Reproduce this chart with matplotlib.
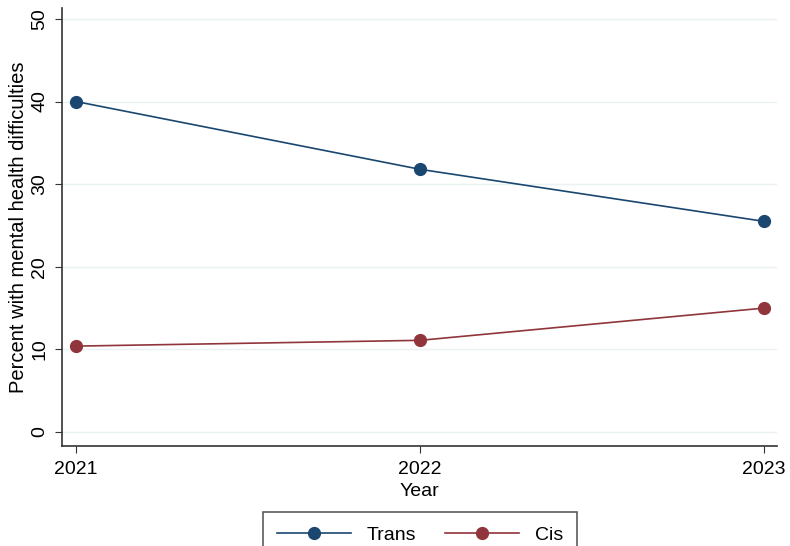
import matplotlib
matplotlib.use('Agg')
import matplotlib.pyplot as plt

plt.rcParams['font.family'] = ['Liberation Sans', 'DejaVu Sans']

years = [2021, 2022, 2023]
trans = [40.0, 31.8, 25.5]
cis = [10.4, 11.1, 15.0]
yticks = [0, 10, 20, 30, 40, 50]

fig = plt.figure(figsize=(7.9, 5.46), dpi=100)
ax = fig.add_axes([0.0785, 0.183, 0.905, 0.802])

ax.plot(years, trans, '-o', color='#1a476f', lw=1.2, ms=8.5, label='Trans', zorder=3)
ax.plot(years, cis, '-o', color='#90353b', lw=1.2, ms=8.5, label='Cis', zorder=3)

ax.set_xlim(2020.959, 2023.038)
ax.set_ylim(-1.7, 51.3)
ax.set_xticks(years)
ax.set_yticks(yticks)
ax.tick_params(axis='both', labelsize=14, color='#333333', length=5)
ax.tick_params(axis='y', pad=5)
ax.tick_params(axis='x', pad=6)
for lab in ax.get_yticklabels():
    lab.set_rotation(90)
    lab.set_va('center')
ax.grid(axis='y', color='#eaf2f3', lw=1)
ax.set_axisbelow(True)
for s in ['top', 'right']:
    ax.spines[s].set_visible(False)
for s in ['left', 'bottom']:
    ax.spines[s].set_color('#333333')
    ax.spines[s].set_linewidth(1.2)

ax.set_xlabel('Year', fontsize=14, labelpad=3)
ax.set_ylabel('Percent with mental health difficulties', fontsize=14.5, labelpad=2)

leg = fig.legend(loc='upper center', bbox_to_anchor=(420/790, 1 - 512/546), ncol=2,
                 fontsize=14, fancybox=False, edgecolor='#333333', handlelength=3.8,
                 handletextpad=0.8, columnspacing=1.5, borderpad=0.75, borderaxespad=0)
leg.get_frame().set_linewidth(1.2)

fig.savefig('out.png', dpi=100)
